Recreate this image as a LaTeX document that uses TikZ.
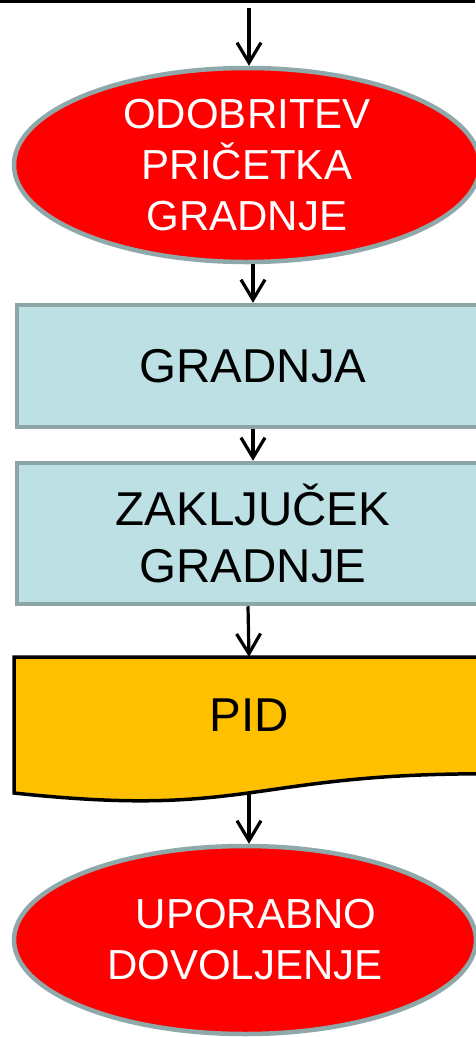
\documentclass[tikz,border=0pt]{standalone}
\usepackage{fontspec}
\setmainfont{Liberation Sans}
\usetikzlibrary{shapes.geometric,arrows.meta}
\definecolor{ellred}{HTML}{FF0000}
\definecolor{ellgray}{HTML}{8FA9AB}
\definecolor{boxfill}{HTML}{BCE0E3}
\definecolor{boxgray}{HTML}{8CA5A7}
\definecolor{docfill}{HTML}{FFC000}
\tikzset{
  terminal/.style={ellipse, draw=ellgray, fill=ellred, line width=4.5pt, inner sep=0pt,
    text=white, align=center, font=\fontsize{42}{51}\selectfont},
  procbox/.style={rectangle, draw=boxgray, fill=boxfill, line width=4.5pt, inner sep=0pt,
    align=center, font=\fontsize{47.5}{57}\selectfont},
  doctext/.style={rectangle, inner sep=0pt, align=center, font=\fontsize{47.5}{57}\selectfont},
  flow/.style={line width=3.2pt, -{Straight Barb[length=20pt,width=24pt,line width=3.2pt]}}
}
\begin{document}
\begin{tikzpicture}[x=1pt,y=-1pt]
\useasboundingbox (0,0) rectangle (475,1037);
% top rule
\draw[line width=3.5pt] (0,1.5) -- (475,1.5);
\coordinate (start) at (249,8);
% nodes
\node[terminal, minimum width=466pt, minimum height=194pt] (e1) at (247,165)
  {ODOBRITEV\\PRIČETKA\\GRADNJE};
\node[procbox, minimum width=472pt, minimum height=122pt] (gr) at (253,366) {GRADNJA};
\node[procbox, minimum width=472pt, minimum height=141pt] (zg) at (253,533.5) {ZAKLJUČEK\\GRADNJE};
\node[doctext, minimum width=470pt, minimum height=116.8pt] (pid) at (249,715.4) {};
\draw[line width=3.5pt, fill=docfill]
  (14,657) -- (484,657) -- (484,773.8)
  .. controls (249,773.8) and (249,818.3) .. (14,793) -- cycle;
\node[doctext] (pidt) at (pid.center) {PID};
\coordinate (pidb) at (249,793);
\node[terminal, minimum width=462pt, minimum height=188pt] (e2) at (245,940)
  {\hspace*{22pt}UPORABNO\\DOVOLJENJE};
% connectors
\draw[flow] (start) -- (start |- e1.north);
\draw[flow] (gr.north |- e1.south) -- (gr.north);
\draw[flow] (gr.south) -- (zg.north);
\draw[flow] ([xshift=-5pt]zg.south) -- (pid.north);
\draw[flow] (pidb) -- (pidb |- e2.north);
\end{tikzpicture}
\end{document}
